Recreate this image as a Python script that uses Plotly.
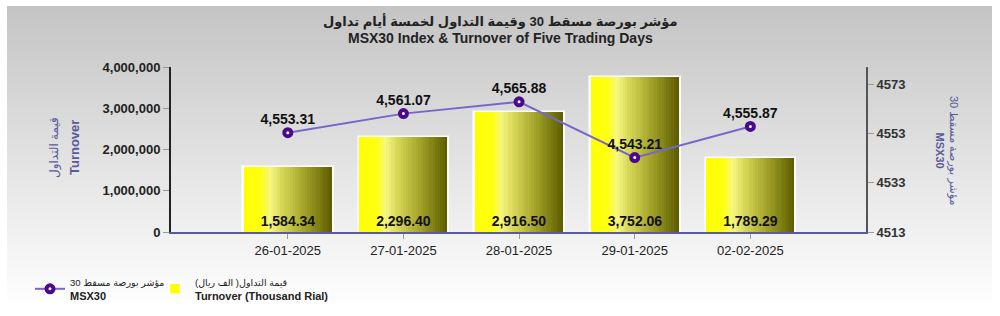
import base64
import plotly.graph_objects as go

dates = ["26-01-2025", "27-01-2025", "28-01-2025", "29-01-2025", "02-02-2025"]
turnover_thousand = [1584.34, 2296.40, 2916.50, 3752.06, 1789.29]
msx30 = [4553.31, 4561.07, 4565.88, 4543.21, 4555.87]
left_ticks = [0, 1000000, 2000000, 3000000, 4000000]
right_ticks = [4513, 4533, 4553, 4573]

bar_heights = [v * 1000 for v in turnover_thousand]
bar_text = [f"{v:,.2f}" for v in turnover_thousand]
line_text = [f"{v:,.2f}" for v in msx30]

W, H = 1000, 316
ML, MR, MT, MB = 171, 134, 67, 84
PW, PH = W - ML - MR, H - MT - MB

def px_x(p):
    return (p - ML) / PW

def px_y(p):
    return (H - MB - p) / PH

FONT = "Liberation Sans, Arial, DejaVu Sans, sans-serif"

fig = go.Figure()

stops = [(0.0, (255, 255, 0)), (0.2, (255, 255, 20)), (0.3, (246, 246, 130)),
         (0.42, (218, 218, 90)), (0.7, (160, 160, 40)), (1.0, (92, 92, 0))]

def grad(t):
    for (a, ca), (b, cb) in zip(stops[:-1], stops[1:]):
        if a <= t <= b:
            f = (t - a) / (b - a) if b > a else 0
            c = [round(ca[i] + (cb[i] - ca[i]) * f) for i in range(3)]
            return f"rgb({c[0]},{c[1]},{c[2]})"
    return "rgb(92,92,0)"

BW = 0.775
fig.add_trace(go.Bar(
    x=dates, y=bar_heights, width=BW, yaxis="y",
    marker=dict(color="#ffff00", line=dict(color="white", width=2.5)),
    name='<span style="font-size:9.5px">قيمة التداول( الف ريال)</span><br><b>Turnover (Thousand Rial)</b>',
    legend="legend2", hoverinfo="skip"))

N = 36
inner = 0.76
for i in range(N):
    t = (i + 0.5) / N
    fig.add_trace(go.Bar(
        x=dates, y=bar_heights, width=inner / N + 0.0005,
        offset=-inner / 2 + i * inner / N, yaxis="y",
        marker=dict(color=grad(t), line=dict(width=0)),
        showlegend=False, hoverinfo="skip"))

fig.add_trace(go.Bar(
    x=dates, y=bar_heights, width=BW, yaxis="y",
    marker=dict(color="rgba(0,0,0,0)", line=dict(width=0)),
    text=bar_text, textposition="inside", insidetextanchor="start",
    textangle=0, constraintext="none",
    textfont=dict(family=FONT, size=14, color="#111111", weight="bold"),
    showlegend=False, hoverinfo="skip"))

fig.add_trace(go.Scatter(
    x=dates, y=msx30, yaxis="y2", mode="lines+markers+text",
    line=dict(color="#7766cc", width=2),
    marker=dict(size=7, color="white", line=dict(color="#4a0a8a", width=4)),
    text=line_text, textposition="top center",
    textfont=dict(family=FONT, size=14, color="#111111", weight="bold"),
    name='<span style="font-size:9.5px">مؤشر بورصة مسقط 30</span><br><b>MSX30</b>',
    legend="legend"))

svg = ('<svg xmlns="http://www.w3.org/2000/svg" width="985" height="302" preserveAspectRatio="none">'
       '<defs><linearGradient id="g" x1="0" y1="0" x2="0" y2="1">'
       '<stop offset="0" stop-color="#c4c4c4"/><stop offset="0.5" stop-color="#e2e2e2"/>'
       '<stop offset="1" stop-color="#ffffff"/></linearGradient></defs>'
       '<rect width="985" height="302" fill="url(#g)"/></svg>')
src = "data:image/svg+xml;base64," + base64.b64encode(svg.encode()).decode()

legend_common = dict(orientation="h", xanchor="left", yanchor="top",
                     font=dict(family=FONT, size=11, color="#222222"),
                     bgcolor="rgba(0,0,0,0)", itemwidth=30)

fig.update_layout(
    width=W, height=H, margin=dict(l=ML, r=MR, t=MT, b=MB, autoexpand=False),
    paper_bgcolor="white", plot_bgcolor="rgba(0,0,0,0)",
    barmode="overlay", bargap=0,
    font=dict(family=FONT, color="#222222"),
    images=[dict(source=src, xref="paper", yref="paper",
                 x=px_x(7), y=px_y(6), sizex=985 / PW, sizey=302 / PH,
                 xanchor="left", yanchor="top", sizing="stretch", layer="below")],
    xaxis=dict(type="category", range=[-1.01, 5.0], showline=True, linecolor="#5a5aa0",
               linewidth=2, ticks="outside", ticklen=5, tickcolor="#999999",
               tickfont=dict(family=FONT, size=13, color="#222222"), showgrid=False,
               fixedrange=True),
    yaxis=dict(range=[0, 4000000], tickvals=left_ticks, tickformat=",d",
               showline=True, linecolor="#222222", linewidth=2, ticks="outside",
               ticklen=6, tickcolor="#999999", showgrid=False, zeroline=False,
               tickfont=dict(family=FONT, size=13, color="#222222", weight="bold")),
    yaxis2=dict(range=[4513, 4580], tickvals=right_ticks, overlaying="y", side="right",
                showline=True, linecolor="#555555", linewidth=2, ticks="outside",
                ticklen=6, tickcolor="#999999", showgrid=False, zeroline=False,
                tickfont=dict(family=FONT, size=13, color="#333333", weight="bold")),
    legend=dict(x=px_x(30), y=px_y(268), **legend_common),
    legend2=dict(x=px_x(155), y=px_y(268), **legend_common),
    showlegend=True,
    annotations=[
        dict(text="<b>مؤشر بورصة مسقط 30 وقيمة التداول لخمسة أيام تداول</b>",
             xref="paper", yref="paper", x=px_x(500), y=px_y(21), showarrow=False,
             xanchor="center", yanchor="middle",
             font=dict(family=FONT, size=13, color="#222222")),
        dict(text="<b>MSX30 Index & Turnover of Five Trading Days</b>",
             xref="paper", yref="paper", x=px_x(500), y=px_y(38), showarrow=False,
             xanchor="center", yanchor="middle",
             font=dict(family=FONT, size=14, color="#222222")),
        dict(text="قيمة التداول", textangle=-90,
             xref="paper", yref="paper", x=px_x(54), y=px_y(148), showarrow=False,
             xanchor="center", yanchor="middle",
             font=dict(family=FONT, size=12, color="#5a5a9a")),
        dict(text="<b>Turnover</b>", textangle=-90,
             xref="paper", yref="paper", x=px_x(74), y=px_y(148), showarrow=False,
             xanchor="center", yanchor="middle",
             font=dict(family=FONT, size=13, color="#5a5a9a")),
        dict(text="مؤشر بورصة مسقط 30<br><b>MSX30</b>", textangle=90,
             xref="paper", yref="paper", x=px_x(947), y=px_y(150), showarrow=False,
             xanchor="center", yanchor="middle",
             font=dict(family=FONT, size=11, color="#5a5a9a")),
    ],
)

fig.write_html("out.html")
